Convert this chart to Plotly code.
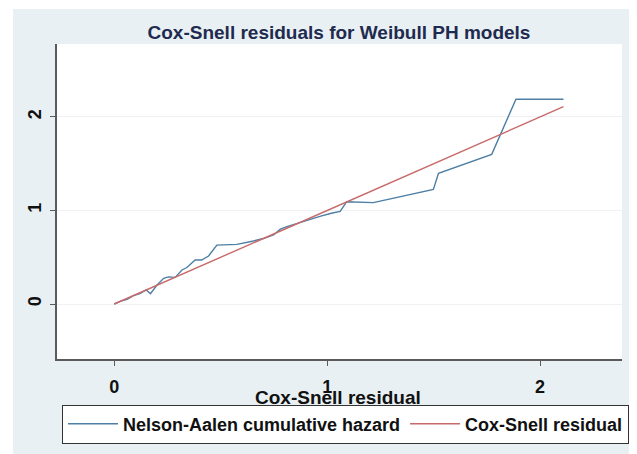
import plotly.graph_objects as go

# Nelson-Aalen cumulative hazard
na_x = [0.0, 0.03, 0.06, 0.09, 0.12, 0.15, 0.17, 0.20, 0.232, 0.255, 0.286, 0.318, 0.341,
        0.380, 0.41, 0.443, 0.482, 0.576, 0.654, 0.70, 0.748, 0.78, 0.811, 0.873,
        0.92, 0.97, 1.02, 1.061, 1.092, 1.217, 1.499, 1.523, 1.773, 1.887, 2.11]
na_y = [0.0, 0.03, 0.05, 0.09, 0.11, 0.15, 0.11, 0.20, 0.275, 0.29, 0.285, 0.364, 0.39,
        0.47, 0.47, 0.513, 0.63, 0.638, 0.674, 0.70, 0.738, 0.80, 0.827, 0.87,
        0.91, 0.94, 0.97, 0.99, 1.094, 1.084, 1.226, 1.398, 1.60, 2.19, 2.19]

# Cox-Snell residual reference line
cs_x = [0.0, 2.11]
cs_y = [0.0, 2.11]

x_ticks = [0, 1, 2]
y_ticks = [0, 1, 2]

title_text = "Cox-Snell residuals for Weibull PH models"
x_title = "Cox-Snell residual"
na_name = "Nelson-Aalen cumulative hazard"
cs_name = "Cox-Snell residual"

FONT = "Liberation Sans, Arial, sans-serif"
BG = "#e9f0f3"

W, H = 629, 446
L, R, T, B = 49, 15, 36, 95
PW = W - L - R
PH = H - T - B


def px_x(p):
    return (p - L) / PW


def px_y(p):
    return (H - B - p) / PH


fig = go.Figure()
fig.add_trace(go.Scatter(x=na_x, y=na_y, mode="lines", name=na_name,
                         line=dict(color="#4d7ea4", width=1.4)))
fig.add_trace(go.Scatter(x=cs_x, y=cs_y, mode="lines", name=cs_name,
                         line=dict(color="#c86a6a", width=1.4)))

fig.update_layout(
    width=W, height=H,
    margin=dict(l=L, r=R, t=T, b=B, autoexpand=False),
    paper_bgcolor=BG, plot_bgcolor="white",
    font=dict(family=FONT, size=17, color="#111111"),
    title=dict(text="<b>" + title_text + "</b>", x=px_x(331), xref="paper", xanchor="center",
               y=1 - 24 / H, yanchor="middle",
               font=dict(family=FONT, size=19, color="#1e2b4f")),
    showlegend=True,
    legend=dict(orientation="h", x=px_x(54), xanchor="left",
                y=px_y(416), yanchor="middle",
                bgcolor="white", bordercolor="#333333", borderwidth=1,
                font=dict(family=FONT, size=18, color="#111111", weight="bold"),
                itemwidth=50, tracegroupgap=0),
    xaxis=dict(range=[-0.269, 2.385], tickvals=x_ticks, ticktext=[str(v) for v in x_ticks],
               showgrid=False, zeroline=False, showline=True, linecolor="#5a5a5a", linewidth=1.5,
               ticks="outside", ticklen=5, tickcolor="#5a5a5a", tickwidth=1.2,
               tickfont=dict(family=FONT, size=18, color="#111111", weight="bold"),
               ticklabelstandoff=6),
    yaxis=dict(range=[-0.588, 2.78], tickvals=y_ticks, ticktext=[str(v) for v in y_ticks],
               showgrid=True, gridcolor="#eef2f4", gridwidth=1, zeroline=False,
               showline=True, linecolor="#5a5a5a", linewidth=1.5,
               ticks="outside", ticklen=5, tickcolor="#5a5a5a", tickwidth=1.2,
               tickangle=-90,
               tickfont=dict(family=FONT, size=18, color="#111111", weight="bold"),
               ticklabelstandoff=2),
    shapes=[
        dict(type="rect", xref="paper", yref="paper", x0=-0.2, x1=px_x(5),
             y0=-0.4, y1=1.3, fillcolor="white", line=dict(width=0), layer="below"),
        dict(type="rect", xref="paper", yref="paper", x0=-0.2, x1=1.2,
             y0=px_y(1), y1=1.3, fillcolor="white", line=dict(width=0), layer="below"),
    ],
    annotations=[
        dict(text="<b>" + x_title + "</b>", xref="paper", yref="paper",
             x=px_x(330), y=px_y(389), xanchor="center", yanchor="middle",
             showarrow=False, font=dict(family=FONT, size=19, color="#111111")),
    ],
)

fig.write_html("out.html")
